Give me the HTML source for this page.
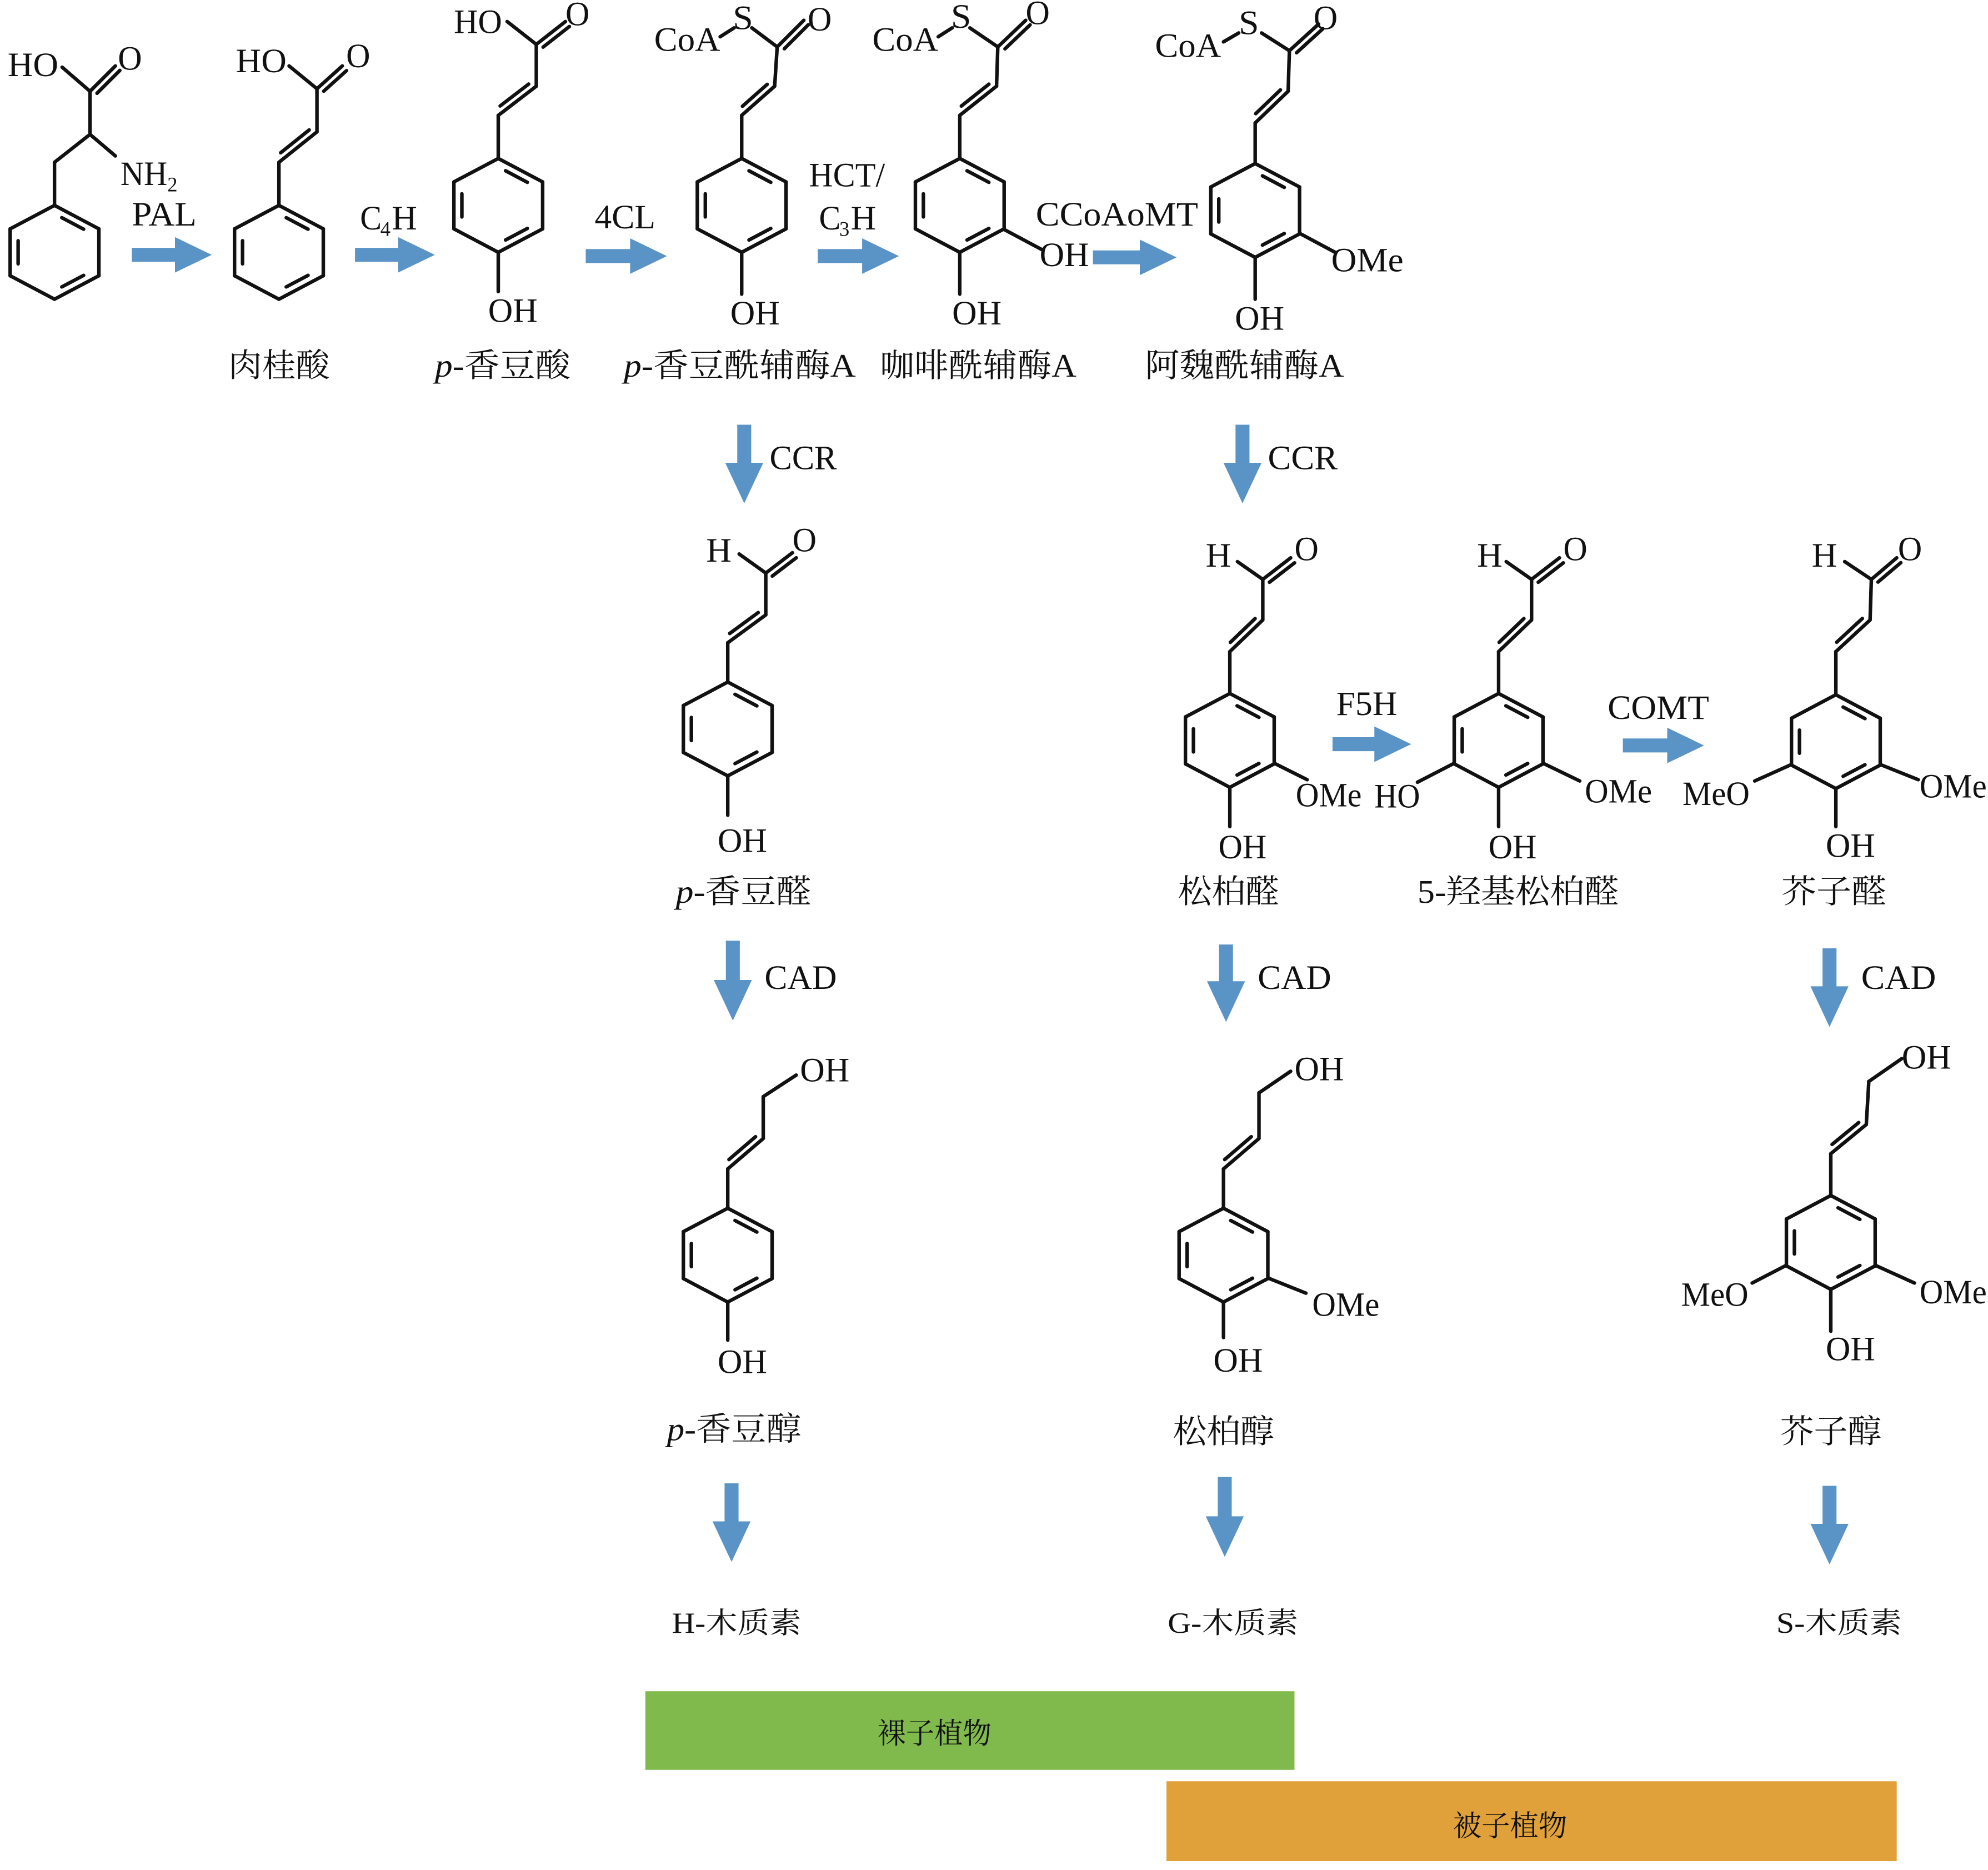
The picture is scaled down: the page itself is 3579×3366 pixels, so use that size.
<!DOCTYPE html>
<html><head><meta charset="utf-8"><style>
html,body{margin:0;padding:0;background:#fff;}
svg{display:block;}
text{font-family:"Liberation Serif","Noto Serif CJK SC","Noto Sans CJK SC",serif;fill:#111;}
</style></head><body>
<svg id="s" xmlns="http://www.w3.org/2000/svg" width="3579" height="3366" viewBox="0 0 1568 1475" preserveAspectRatio="none">
<g id="lines" stroke="#111" stroke-width="2.8" stroke-linecap="round" fill="none"></g>
<g id="arrows" fill="#5a93c6"></g>
<rect x="509" y="1334" width="512" height="62" fill="#80b94c"/>
<rect x="920" y="1405" width="576" height="63" fill="#e0a13b"/>
<g font-size="27">
<text x="6" y="60" textLength="40" lengthAdjust="spacingAndGlyphs">HO</text>
<text x="93" y="55" textLength="19" lengthAdjust="spacingAndGlyphs">O</text>
<text x="95" y="146" textLength="37" lengthAdjust="spacingAndGlyphs">NH</text><text x="132" y="151" font-size="16">2</text>
<text x="104" y="178" textLength="51" lengthAdjust="spacingAndGlyphs">PAL</text>
<text x="186" y="57" textLength="40" lengthAdjust="spacingAndGlyphs">HO</text>
<text x="273" y="53" textLength="19" lengthAdjust="spacingAndGlyphs">O</text>
<text x="284" y="181" textLength="17" lengthAdjust="spacingAndGlyphs">C</text><text x="300" y="186" font-size="16">4</text><text x="309" y="181" textLength="20" lengthAdjust="spacingAndGlyphs">H</text>
<text x="358" y="26" textLength="38" lengthAdjust="spacingAndGlyphs">HO</text>
<text x="446" y="20" textLength="19" lengthAdjust="spacingAndGlyphs">O</text>
<text x="385" y="254" textLength="39" lengthAdjust="spacingAndGlyphs">OH</text>
<text x="516" y="40" textLength="52" lengthAdjust="spacingAndGlyphs">CoA</text>
<text x="578" y="23" textLength="16" lengthAdjust="spacingAndGlyphs">S</text>
<text x="637" y="24" textLength="19" lengthAdjust="spacingAndGlyphs">O</text>
<text x="576" y="256" textLength="39" lengthAdjust="spacingAndGlyphs">OH</text>
<text x="469" y="180" textLength="48" lengthAdjust="spacingAndGlyphs">4CL</text>
<text x="638" y="147" textLength="60" lengthAdjust="spacingAndGlyphs">HCT/</text>
<text x="646" y="181" textLength="17" lengthAdjust="spacingAndGlyphs">C</text><text x="662" y="186" font-size="16">3</text><text x="671" y="181" textLength="20" lengthAdjust="spacingAndGlyphs">H</text>
<text x="688" y="40" textLength="52" lengthAdjust="spacingAndGlyphs">CoA</text>
<text x="750" y="22" textLength="16" lengthAdjust="spacingAndGlyphs">S</text>
<text x="809" y="19" textLength="19" lengthAdjust="spacingAndGlyphs">O</text>
<text x="820" y="210" textLength="39" lengthAdjust="spacingAndGlyphs">OH</text>
<text x="751" y="256" textLength="39" lengthAdjust="spacingAndGlyphs">OH</text>
<text x="817" y="178" textLength="128" lengthAdjust="spacingAndGlyphs">CCoAoMT</text>
<text x="911" y="45" textLength="52" lengthAdjust="spacingAndGlyphs">CoA</text>
<text x="977" y="27" textLength="16" lengthAdjust="spacingAndGlyphs">S</text>
<text x="1036" y="23" textLength="19" lengthAdjust="spacingAndGlyphs">O</text>
<text x="1050" y="214" textLength="57" lengthAdjust="spacingAndGlyphs">OMe</text>
<text x="974" y="260" textLength="39" lengthAdjust="spacingAndGlyphs">OH</text>
<text x="607" y="370" textLength="53" lengthAdjust="spacingAndGlyphs">CCR</text>
<text x="1000" y="370" textLength="55" lengthAdjust="spacingAndGlyphs">CCR</text>
<text x="557" y="443" textLength="20" lengthAdjust="spacingAndGlyphs">H</text><text x="625" y="435" textLength="19" lengthAdjust="spacingAndGlyphs">O</text>
<text x="566" y="672" textLength="39" lengthAdjust="spacingAndGlyphs">OH</text>
<text x="951" y="447" textLength="20" lengthAdjust="spacingAndGlyphs">H</text><text x="1021" y="442" textLength="19" lengthAdjust="spacingAndGlyphs">O</text>
<text x="1022" y="636" textLength="52" lengthAdjust="spacingAndGlyphs">OMe</text>
<text x="961" y="677" textLength="38" lengthAdjust="spacingAndGlyphs">OH</text>
<text x="1054" y="564" textLength="48" lengthAdjust="spacingAndGlyphs">F5H</text>
<text x="1268" y="567" textLength="80" lengthAdjust="spacingAndGlyphs">COMT</text>
<text x="1084" y="637" textLength="36" lengthAdjust="spacingAndGlyphs">HO</text>
<text x="1165" y="447" textLength="20" lengthAdjust="spacingAndGlyphs">H</text><text x="1233" y="442" textLength="19" lengthAdjust="spacingAndGlyphs">O</text>
<text x="1250" y="633" textLength="53" lengthAdjust="spacingAndGlyphs">OMe</text>
<text x="1174" y="677" textLength="38" lengthAdjust="spacingAndGlyphs">OH</text>
<text x="1429" y="447" textLength="20" lengthAdjust="spacingAndGlyphs">H</text><text x="1497" y="442" textLength="19" lengthAdjust="spacingAndGlyphs">O</text>
<text x="1327" y="635" textLength="53" lengthAdjust="spacingAndGlyphs">MeO</text>
<text x="1514" y="629" textLength="53" lengthAdjust="spacingAndGlyphs">OMe</text>
<text x="1440" y="676" textLength="39" lengthAdjust="spacingAndGlyphs">OH</text>
<text x="603" y="780" textLength="57" lengthAdjust="spacingAndGlyphs">CAD</text>
<text x="992" y="780" textLength="58" lengthAdjust="spacingAndGlyphs">CAD</text>
<text x="1468" y="780" textLength="59" lengthAdjust="spacingAndGlyphs">CAD</text>
<text x="631" y="853" textLength="39" lengthAdjust="spacingAndGlyphs">OH</text>
<text x="566" y="1083" textLength="39" lengthAdjust="spacingAndGlyphs">OH</text>
<text x="1021" y="852" textLength="39" lengthAdjust="spacingAndGlyphs">OH</text>
<text x="1035" y="1038" textLength="53" lengthAdjust="spacingAndGlyphs">OMe</text>
<text x="957" y="1082" textLength="39" lengthAdjust="spacingAndGlyphs">OH</text>
<text x="1500" y="843" textLength="39" lengthAdjust="spacingAndGlyphs">OH</text>
<text x="1326" y="1030" textLength="53" lengthAdjust="spacingAndGlyphs">MeO</text>
<text x="1514" y="1028" textLength="53" lengthAdjust="spacingAndGlyphs">OMe</text>
<text x="1440" y="1073" textLength="39" lengthAdjust="spacingAndGlyphs">OH</text>
</g>
<g font-size="26">
<text x="180" y="297" textLength="80" lengthAdjust="spacingAndGlyphs">肉桂酸</text>
<text x="343" y="297" textLength="107" lengthAdjust="spacingAndGlyphs"><tspan font-style="italic">p</tspan>-香豆酸</text>
<text x="492" y="297" textLength="183" lengthAdjust="spacingAndGlyphs"><tspan font-style="italic">p</tspan>-香豆酰辅酶A</text>
<text x="694" y="297" textLength="155" lengthAdjust="spacingAndGlyphs">咖啡酰辅酶A</text>
<text x="903" y="297" textLength="157" lengthAdjust="spacingAndGlyphs">阿魏酰辅酶A</text>
<text x="533" y="712" textLength="107" lengthAdjust="spacingAndGlyphs"><tspan font-style="italic">p</tspan>-香豆醛</text>
<text x="929" y="712" textLength="80" lengthAdjust="spacingAndGlyphs">松柏醛</text>
<text x="1118" y="712" textLength="159" lengthAdjust="spacingAndGlyphs">5-羟基松柏醛</text>
<text x="1405" y="712" textLength="83" lengthAdjust="spacingAndGlyphs">芥子醛</text>
<text x="526" y="1136" textLength="106" lengthAdjust="spacingAndGlyphs"><tspan font-style="italic">p</tspan>-香豆醇</text>
<text x="925" y="1138" textLength="80" lengthAdjust="spacingAndGlyphs">松柏醇</text>
<text x="1404" y="1138" textLength="80" lengthAdjust="spacingAndGlyphs">芥子醇</text>
</g>
<g font-size="23">
<text x="530" y="1288" textLength="102" lengthAdjust="spacingAndGlyphs">H-木质素</text>
<text x="921" y="1288" textLength="103" lengthAdjust="spacingAndGlyphs">G-木质素</text>
<text x="1401" y="1288" textLength="99" lengthAdjust="spacingAndGlyphs">S-木质素</text>
<text x="692" y="1375" textLength="90" lengthAdjust="spacingAndGlyphs" fill="#222">裸子植物</text>
<text x="1146" y="1448" textLength="90" lengthAdjust="spacingAndGlyphs" fill="#222">被子植物</text>
</g>
</svg>
<script>
var NS="http://www.w3.org/2000/svg",L=document.getElementById("lines"),A=document.getElementById("arrows");
function ln(x1,y1,x2,y2){var e=document.createElementNS(NS,"line");e.setAttribute("x1",x1);e.setAttribute("y1",y1);e.setAttribute("x2",x2);e.setAttribute("y2",y2);L.appendChild(e);}
function ring(cx,cy){var w=35,h=37;var v=[[cx,cy-h],[cx+w,cy-h/2],[cx+w,cy+h/2],[cx,cy+h],[cx-w,cy+h/2],[cx-w,cy-h/2]];
for(var i=0;i<6;i++){var a=v[i],b=v[(i+1)%6];ln(a[0],a[1],b[0],b[1]);
if(i%2==0){var t=0.2,k=0.8;var ax=a[0]+(cx-a[0])*0.18,ay=a[1]+(cy-a[1])*0.18,bx=b[0]+(cx-b[0])*0.18,by=b[1]+(cy-b[1])*0.18;
ln(ax+(bx-ax)*t,ay+(by-ay)*t,ax+(bx-ax)*k,ay+(by-ay)*k);}}}
function db(x1,y1,x2,y2,side){ln(x1,y1,x2,y2);var dx=x2-x1,dy=y2-y1,l=Math.hypot(dx,dy),nx=-dy/l*5*side,ny=dx/l*5*side;
ln(x1+nx+dx*0.15,y1+ny+dy*0.15,x2+nx-dx*0.1,y2+ny-dy*0.1);}
function dbo(x1,y1,x2,y2){ln(x1,y1,x2,y2);var dx=x2-x1,dy=y2-y1,l=Math.hypot(dx,dy),nx=-dy/l*5,ny=dx/l*5;ln(x1+nx+dx*0.1,y1+ny+dy*0.1,x2+nx,y2+ny);}
ring(43,199);ln(43,162,43,128);ln(43,128,71,106);ln(71,106,91,123);ln(71,106,71,72);ln(71,72,49,53);dbo(71,72,91,52);
ring(220,199);ln(220,162,220,128);db(220,128,250,104,-1);ln(250,104,250,70);ln(250,70,228,52);dbo(250,70,270,52);
ring(393,162);ln(393,125,393,91);db(393,91,423,68,-1);ln(423,68,423,35);ln(423,35,400,17);dbo(423,35,446,17);ln(393,199,393,230);
ring(585,162);ln(585,125,585,91);db(585,91,611,68,-1);ln(611,68,613,37);ln(613,37,593,22);dbo(613,37,634,16);ln(568,29,579,22);ln(585,199,585,232);
ring(757,162);ln(757,125,757,91);db(757,91,786,68,-1);ln(786,68,787,37);ln(787,37,765,22);dbo(787,37,809,16);ln(740,29,751,22);ln(792,181,822,197);ln(757,199,757,232);
ring(990,166);ln(990,129,990,97);db(990,97,1016,72,-1);ln(1016,72,1017,40);ln(1017,40,995,26);dbo(1017,40,1040,19);ln(965,33,977,26);ln(1025,184,1053,199);ln(990,203,990,236);
ring(574,575);ln(574,538,574,507);db(574,507,604,485,-1);ln(604,485,604,452);ln(604,452,583,437);dbo(604,452,625,436);ln(574,612,574,643);
ring(970,584);ln(970,547,970,514);db(970,514,996,489,-1);ln(996,489,996,457);ln(996,457,976,443);dbo(996,457,1018,440);ln(1005,602,1031,615);ln(970,621,970,652);
ring(1182,584);ln(1182,547,1182,514);db(1182,514,1208,489,-1);ln(1208,489,1208,457);ln(1208,457,1188,443);dbo(1208,457,1230,440);ln(1147,602,1118,617);ln(1217,602,1246,616);ln(1182,621,1182,652);
ring(1448,585);ln(1448,548,1448,514);db(1448,514,1475,489,-1);ln(1475,489,1476,457);ln(1476,457,1455,443);dbo(1476,457,1496,440);ln(1413,603,1384,616);ln(1483,603,1513,615);ln(1448,622,1448,652);
ring(574,990);ln(574,953,574,922);db(574,922,602,898,-1);ln(602,898,602,865);ln(602,865,628,848);ln(574,1027,574,1057);
ring(965,990);ln(965,953,965,922);db(965,922,993,898,-1);ln(993,898,993,862);ln(993,862,1018,845);ln(1000,1008,1030,1020);ln(965,1027,965,1055);
ring(1444,980);ln(1444,943,1444,910);db(1444,910,1472,887,-1);ln(1472,887,1474,853);ln(1474,853,1500,835);ln(1409,998,1382,1012);ln(1479,998,1510,1012);ln(1444,1017,1444,1050);
function poly(p){var e=document.createElementNS(NS,"polygon");e.setAttribute("points",p);A.appendChild(e);}
function ha(x1,x2,y){var hx=x2-29;poly(x1+","+(y-5.5)+" "+hx+","+(y-5.5)+" "+hx+","+(y-14)+" "+x2+","+y+" "+hx+","+(y+14)+" "+hx+","+(y+5.5)+" "+x1+","+(y+5.5));}
function va(x,y1,y2){var hy=y2-32;poly((x-5.5)+","+y1+" "+(x+5.5)+","+y1+" "+(x+5.5)+","+hy+" "+(x+15)+","+hy+" "+x+","+y2+" "+(x-15)+","+hy+" "+(x-5.5)+","+hy);}
ha(104,167,201);ha(280,343,201);ha(462,526,202);ha(645,709,202);ha(862,928,203);ha(1051,1113,587);ha(1280,1344,588);
va(587,335,397);va(980,335,397);va(578,742,805);va(967,745,806);va(1443,748,810);va(577,1170,1232);va(966,1165,1228);va(1443,1172,1234);
</script>
</body></html>
